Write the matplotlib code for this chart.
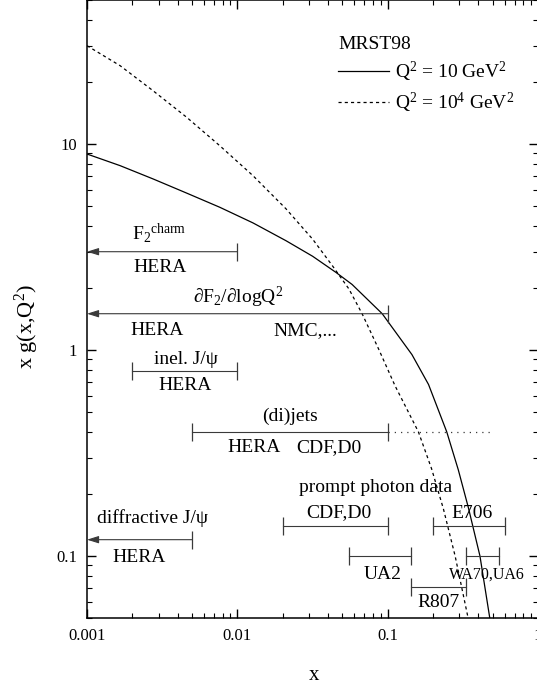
import matplotlib
matplotlib.use('Agg')
import matplotlib.pyplot as plt
from matplotlib.ticker import LogLocator, FixedLocator, FixedFormatter, NullFormatter

plt.rcParams['font.family'] = ['Liberation Serif', 'DejaVu Serif']
plt.rcParams['mathtext.fontset'] = 'custom'
plt.rcParams['mathtext.rm'] = 'Liberation Serif'
plt.rcParams['mathtext.it'] = 'Liberation Serif:italic'
plt.rcParams['mathtext.default'] = 'rm'

# MRST98 gluon, x g(x,Q^2)
x_q10 = [0.001, 0.00166, 0.00276, 0.00459, 0.00764, 0.0127, 0.0211, 0.0317, 0.0453,
         0.058, 0.092, 0.145, 0.187, 0.247, 0.295, 0.344, 0.411, 0.479]
g_q10 = [8.94, 7.85, 6.76, 5.78, 4.93, 4.14, 3.39, 2.85, 2.38,
         2.08, 1.50, 0.95, 0.68, 0.401, 0.262, 0.172, 0.100, 0.0494]
x_q1e4 = [0.001, 0.00166, 0.00276, 0.00459, 0.00764, 0.0127, 0.0211, 0.0317, 0.0428,
          0.0552, 0.0676, 0.0871, 0.112, 0.160, 0.196, 0.235, 0.281, 0.344]
g_q1e4 = [30.0, 24.0, 18.1, 13.5, 9.81, 7.02, 4.84, 3.45, 2.57,
          1.98, 1.50, 1.01, 0.67, 0.401, 0.265, 0.169, 0.100, 0.0494]

# x ranges covered by each process
range_lo = [0.001, 0.001, 0.002, 0.005, 0.02, 0.2, 0.055, 0.33, 0.144, 0.001]
range_hi = [0.01, 0.1, 0.01, 0.1, 0.1, 0.6, 0.144, 0.55, 0.33, 0.005]
range_y = [3.0, 1.5, 0.79, 0.40, 0.14, 0.14, 0.10, 0.10, 0.071, 0.12]
range_open = [True, True, False, False, False, False, False, False, False, True]
jets_ext = [0.1, 0.5]   # dotted extension of the (di)jets range

xticks = [0.001, 0.01, 0.1, 1]
xtick_labels = ['0.001', '0.01', '0.1', '1']
yticks = [0.1, 1, 10]
ytick_labels = ['0.1', '1', '10']

fig = plt.figure(figsize=(5.37, 6.89), dpi=100)
ax = fig.add_axes([87 / 537, 71 / 689, 451 / 537, 618 / 689])
ax.set_xscale('log')
ax.set_yscale('log')
ax.set_xlim(0.001, 1)
ax.set_ylim(0.05, 50)

ax.plot(x_q10, g_q10, color='black', lw=0.9, label=r'Q$^2$ = 10 GeV$^2$')
ax.plot(x_q1e4, g_q1e4, color='black', lw=0.9, ls=(0, (2.5, 2.5)),
        label=r'Q$^2$ = 10$^4$ GeV$^2$')

bar_col = '#3a3a3a'
for lo, hi, y, op in zip(range_lo, range_hi, range_y, range_open):
    if op:
        ax.annotate('', xy=(lo, y), xytext=(hi, y),
                    arrowprops=dict(arrowstyle='-|>,head_length=0.7,head_width=0.22',
                                    color=bar_col, lw=0.8, shrinkA=0, shrinkB=0,
                                    mutation_scale=10))
        ax.plot([hi], [y], marker='|', ms=13, mew=0.9, color=bar_col)
    else:
        ax.plot([lo, hi], [y, y], color=bar_col, lw=0.8)
        ax.plot([lo, hi], [y, y], ls='none', marker='|', ms=13, mew=0.9, color=bar_col)
ax.plot(jets_ext, [range_y[3]] * 2, color=bar_col, lw=0.9, ls=(0, (1, 4)))

def lab(txt, x, y, dy, size=14):
    va = 'baseline' if dy > 0 else 'top'
    ax.annotate(txt, (x, y), xytext=(0, dy), textcoords='offset points',
                ha='center', va=va, fontsize=size)

lab(r'F$_2{}^{\mathrm{charm}}$', 0.00304, 3.0, 8.5)
lab('HERA', 0.00306, 3.0, -5.5)
lab(r'∂F$_2$/∂logQ$^2$', 0.0101, 1.5, 8)
lab('HERA', 0.00293, 1.5, -5.8)
lab('NMC,...', 0.0282, 1.5, -5.8)
lab('inel. J/ψ', 0.00453, 0.79, 5)
lab('HERA', 0.00447, 0.79, -4.3)
lab('(di)jets', 0.0223, 0.40, 8)
lab('HERA', 0.0130, 0.40, -5)
lab('CDF,D0', 0.0407, 0.40, -5)
ax.text(0.0826, 0.205, 'prompt photon data', ha='center', va='baseline', fontsize=14)
lab('CDF,D0', 0.0474, 0.14, 6.5)
lab('E706', 0.366, 0.14, 6)
lab('UA2', 0.092, 0.10, -7)
lab('WA70,UA6', 0.457, 0.10, -8, size=11.5)
lab('R807', 0.218, 0.071, -5)
lab('diffractive J/ψ', 0.00271, 0.12, 12)
lab('HERA', 0.00221, 0.12, -7)

leg = ax.legend(title='MRST98', loc='upper left', bbox_to_anchor=(0.557, 0.942),
                frameon=False, fontsize=14, title_fontsize=14, alignment='left',
                handlelength=2.6, handletextpad=0.3, labelspacing=0.35,
                borderpad=0, borderaxespad=0)

ax.xaxis.set_major_locator(FixedLocator(xticks))
ax.xaxis.set_major_formatter(FixedFormatter(xtick_labels))
ax.yaxis.set_major_locator(FixedLocator(yticks))
ax.yaxis.set_major_formatter(FixedFormatter(ytick_labels))
for axis in (ax.xaxis, ax.yaxis):
    axis.set_minor_locator(LogLocator(base=10, subs=range(2, 10)))
    axis.set_minor_formatter(NullFormatter())
ax.tick_params(which='both', direction='in', top=True, right=True, labelsize=12)
ax.tick_params(which='major', length=6.5, width=1, pad=7)
ax.tick_params(which='minor', length=3.6, width=0.8)
for s in ax.spines.values():
    s.set_linewidth(1.1)

fig.text(27 / 537, 1 - 327 / 689, r'x g(x,Q$^2$)', rotation=90, ha='center', va='center', fontsize=16)
fig.text(314 / 537, 1 - 675 / 689, 'x', ha='center', va='center', fontsize=15)

fig.savefig('out.png', dpi=100)
